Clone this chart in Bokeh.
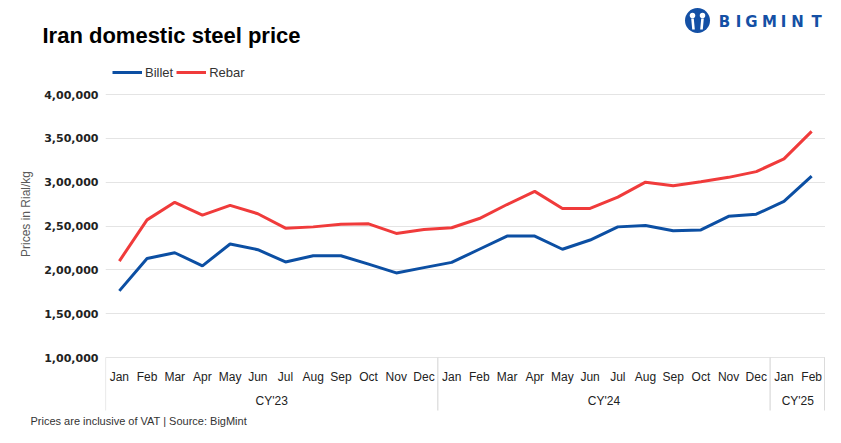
from bokeh.plotting import figure
from bokeh.models import Range1d, FixedTicker, Legend, LegendItem
from bokeh.core.properties import value
from bokeh.embed import file_html
from bokeh.resources import INLINE

# ---------------- data ----------------
months = ["Jan", "Feb", "Mar", "Apr", "May", "Jun", "Jul", "Aug", "Sep", "Oct", "Nov", "Dec",
          "Jan", "Feb", "Mar", "Apr", "May", "Jun", "Jul", "Aug", "Sep", "Oct", "Nov", "Dec",
          "Jan", "Feb"]
years = ["CY'23"] * 12 + ["CY'24"] * 12 + ["CY'25"] * 2
billet = [176000, 213000, 219500, 204500, 229500, 223000, 209000, 216000, 216000, 206500,
          196500, 202500, 208500, 223500, 238500, 238500, 223500, 234000, 249000, 250500,
          244500, 245500, 261000, 263500, 278000, 307000]
rebar = [210000, 257000, 277000, 262500, 273500, 264000, 247500, 249000, 252000, 252500,
         241500, 246000, 248000, 258500, 274500, 289500, 270000, 270000, 283000, 300000,
         296000, 300500, 305500, 312000, 326500, 358000]
y_ticks = [100000, 150000, 200000, 250000, 300000, 350000, 400000]
series_names = ["Billet", "Rebar"]
title_text = "Iran domestic steel price"
y_title = "Prices in Rial/kg"
footnote = "Prices are inclusive of VAT | Source: BigMint"
brand = "BIGMINT"

# ---------------- layout (canvas pixels) ----------------
W, H = 825, 427
FL = 105                       # frame left
Y_TOP_PX, Y_BOT_PX = 94, 357   # rows of top / bottom tick
BLUE, RED = "#0c4fa3", "#f03b3b"
LOGO = "#1450a5"
TXT = "#222222"

n = len(months)
upp = (y_ticks[-1] - y_ticks[0]) / (Y_BOT_PX - Y_TOP_PX)


def ydata(py):
    return y_ticks[0] + (Y_BOT_PX - py) * upp


def xdata(px):
    return -0.5 + (px - FL) * n / (W - FL)


def inr(v):
    s = str(int(v))
    head, tail = s[:-3], s[-3:]
    parts = []
    while len(head) > 2:
        parts.insert(0, head[-2:])
        head = head[:-2]
    if head:
        parts.insert(0, head)
    return ",".join(parts + [tail])


xs = list(range(n))

p = figure(width=W, height=H, output_backend="svg", toolbar_location=None,
           x_range=Range1d(-0.5, n - 0.5), y_range=Range1d(ydata(H), ydata(0)),
           x_axis_location=None, y_axis_location="left", title=None,
           min_border_left=FL, min_border_right=0, min_border_top=0, min_border_bottom=0)
p.outline_line_color = None

ax = p.yaxis[0]
ax.ticker = FixedTicker(ticks=y_ticks)
ax.major_label_overrides = {t: inr(t) for t in y_ticks}
ax.axis_line_color = None
ax.major_tick_line_color = None
ax.minor_tick_line_color = None
ax.major_tick_out = 0
ax.major_tick_in = 0
ax.major_label_standoff = 7
ax.major_label_text_font = "DejaVu Sans"
ax.major_label_text_font_style = "bold"
ax.major_label_text_font_size = "11px"
ax.major_label_text_color = TXT
ax.axis_label = y_title
ax.axis_label_standoff = 8
ax.axis_label_text_font = "Liberation Sans"
ax.axis_label_text_font_style = "normal"
ax.axis_label_text_font_size = "12px"
ax.axis_label_text_color = "#595959"

p.ygrid.ticker = FixedTicker(ticks=y_ticks)
p.ygrid.grid_line_color = "#e4e4e4"
p.ygrid.grid_line_width = 1.2
p.xgrid.grid_line_color = None

# category box separators
bounds = [-0.5] + [i - 0.5 for i in range(1, n) if years[i] != years[i - 1]] + [n - 0.5 - 0.03]
p.segment(x0=bounds, y0=[y_ticks[0]] * len(bounds), x1=bounds,
          y1=[ydata(410)] * len(bounds), line_color="#d9d9d9", line_width=1.2)

# month labels
p.text(x=xs, y=[ydata(376)] * n, text=months, text_align="center", text_baseline="middle",
       text_font=value("Liberation Sans"), text_font_size="12px", text_color=TXT)

# group labels
groups = []
for i, g in enumerate(years):
    if not groups or groups[-1][0] != g:
        groups.append([g, i, i])
    else:
        groups[-1][2] = i
gx = [(a + b) / 2 for _, a, b in groups]
p.text(x=gx, y=[ydata(400)] * len(gx), text=[g for g, _, _ in groups], text_align="center",
       text_baseline="middle", text_font=value("Liberation Sans"), text_font_size="12px",
       text_color=TXT)

rb = p.line(xs, billet, line_color=BLUE, line_width=3)
rr = p.line(xs, rebar, line_color=RED, line_width=3)

legend = Legend(items=[LegendItem(label=series_names[0], renderers=[rb]),
                       LegendItem(label=series_names[1], renderers=[rr])],
                location=(7, H - 80), orientation="horizontal", margin=0, padding=0,
                glyph_width=30, glyph_height=16, label_standoff=3, spacing=3,
                label_text_font="Liberation Sans", label_text_font_size="13px",
                label_text_color="#333333", border_line_color=None,
                background_fill_alpha=0)
p.add_layout(legend)

# ---------------- title / footnote (outside frame, not clipped) ----------------
p.text(x=[xdata(42)], y=[ydata(35)], text=[title_text], text_baseline="middle",
       text_font=value("Liberation Sans"), text_font_style="bold",
       text_font_size="22px", text_color="#000000", level="overlay")
p.text(x=[xdata(30)], y=[ydata(420)], text=[footnote], text_baseline="middle",
       text_font=value("Liberation Sans"), text_font_size="11px", text_color="#333333",
       level="overlay")

# ---------------- logo ----------------
lcx, lcy = 697, 20
p.scatter(x=[xdata(lcx)], y=[ydata(lcy)], size=25, marker="circle",
          fill_color=LOGO, line_color=None)
p.scatter(x=[xdata(lcx - 5), xdata(lcx + 5)], y=[ydata(lcy - 5)] * 2, size=5.5,
          marker="circle", fill_color="white", line_color=None)
p.segment(x0=[xdata(lcx - 5), xdata(lcx + 5)], y0=[ydata(lcy - 2)] * 2,
          x1=[xdata(lcx - 4), xdata(lcx + 4)], y1=[ydata(lcy + 9)] * 2,
          line_color="white", line_width=2.6)
letter_x = [724, 738, 751, 769, 783, 797, 816]
p.text(x=[xdata(v) for v in letter_x], y=[ydata(21)] * len(letter_x), text=list(brand),
       text_align="center", text_baseline="middle", text_font=value("DejaVu Sans"),
       text_font_style="bold", text_font_size="15px", text_color=LOGO)

open("out.html", "w").write(file_html(p, INLINE))
